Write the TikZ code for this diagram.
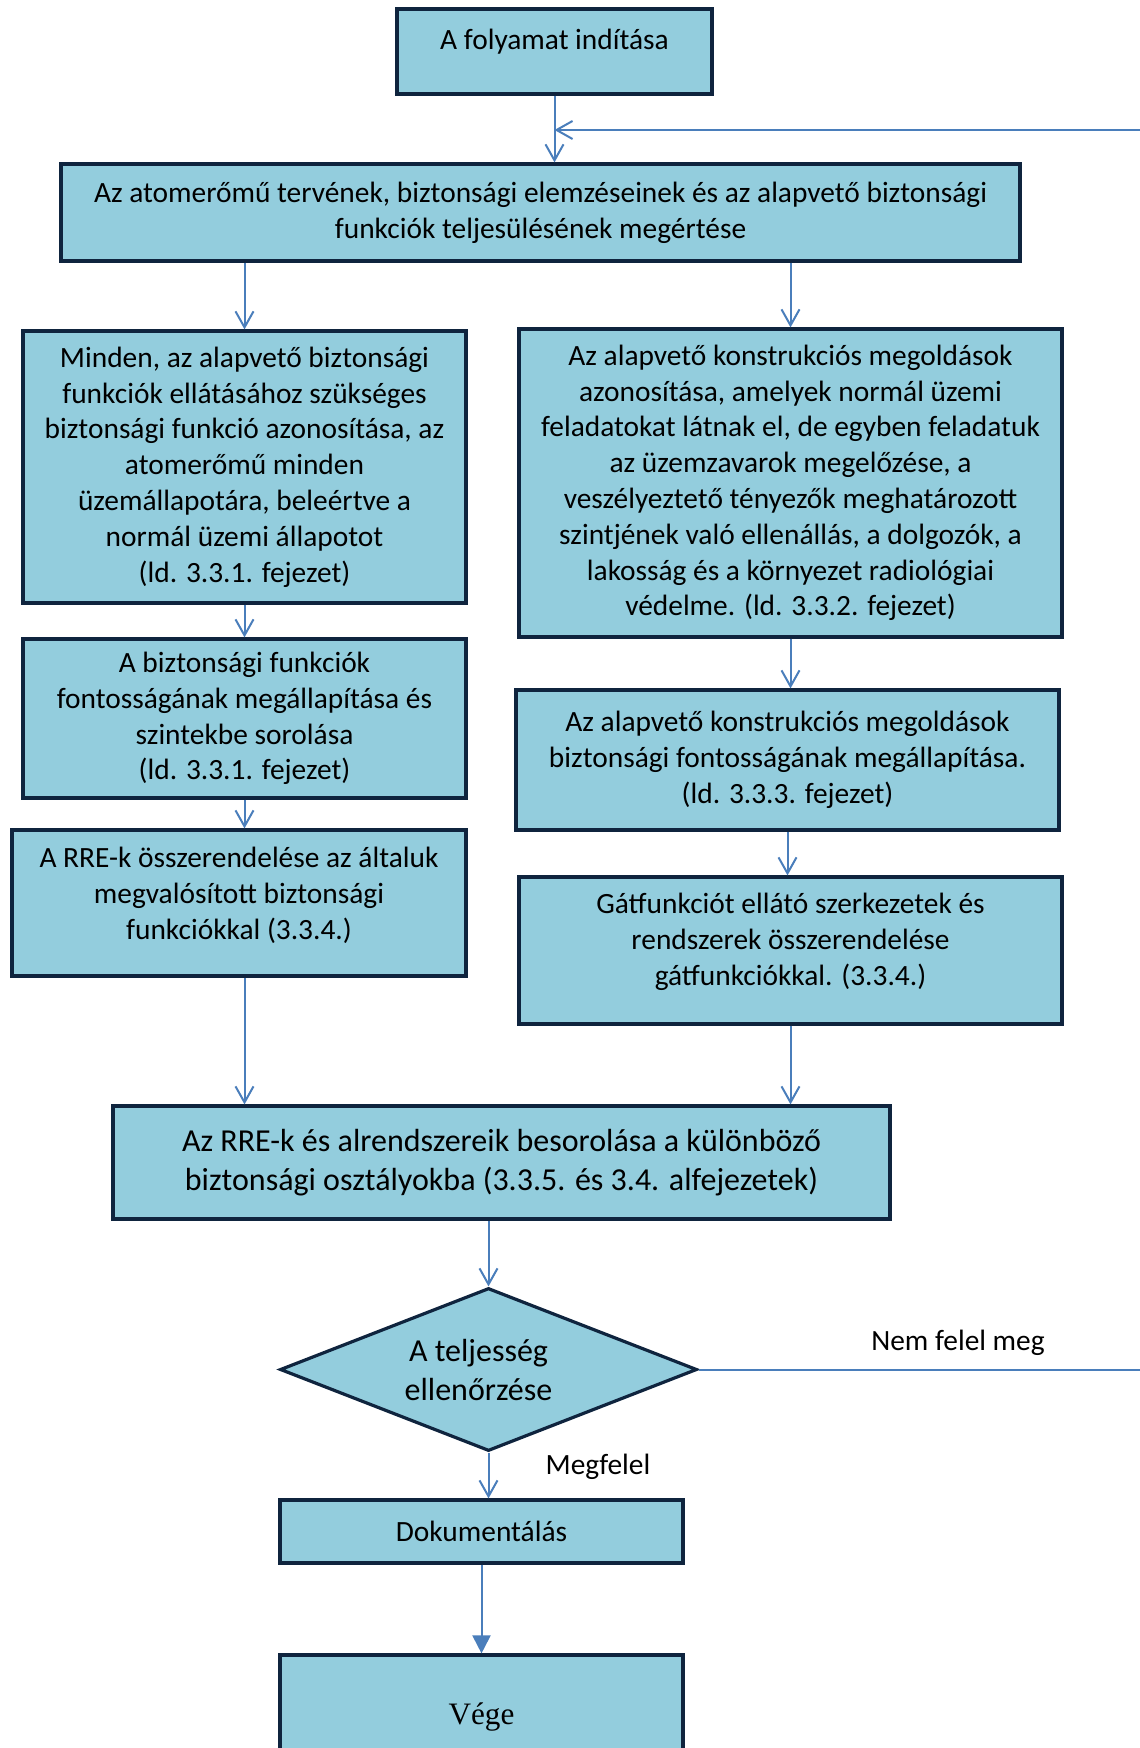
\documentclass[tikz,border=0pt]{standalone}
\usepackage{fontspec}
\setmainfont{Carlito}
\newfontfamily\vegefont{Liberation Serif}
\usepackage{xcolor}
\usetikzlibrary{shapes.geometric,arrows.meta}
\definecolor{boxfill}{RGB}{147,205,221}
\definecolor{boxline}{RGB}{15,36,62}
\definecolor{linkblue}{RGB}{74,126,187}

\begin{document}
\begin{tikzpicture}[x=0.5pt,y=-0.5pt,
  box/.style={rectangle,draw=boxline,fill=boxfill,line width=1.6pt,align=center,inner sep=0pt,font=\fontsize{14.7}{17.9}\selectfont},
  link/.style={draw=linkblue,line width=1pt},
  arr/.style={link,-{Straight Barb[length=8pt,width=9pt,line width=1pt]}}]
\useasboundingbox (0,0) rectangle (1139,1748);

\node [box,minimum width=157.5pt,minimum height=42.5pt,text depth=12pt] (start) at (554.5,51.5) {A folyamat indítása};
\node [box,minimum width=479.5pt,minimum height=48.5pt] (plan) at (540.5,212.5)
  {Az atomerőmű tervének, biztonsági elemzéseinek és az alapvető biztonsági\\funkciók teljesülésének megértése};
\node [box,minimum width=221.5pt,minimum height=136pt] (func) at (244.5,467)
  {Minden, az alapvető biztonsági\\funkciók ellátásához szükséges\\biztonsági funkció azonosítása, az\\atomerőmű minden\\üzemállapotára, beleértve a\\normál üzemi állapotot\\(ld. 3.3.1. fejezet)};
\node [box,minimum width=271.5pt,minimum height=154pt] (design) at (790.5,483)
  {Az alapvető konstrukciós megoldások\\azonosítása, amelyek normál üzemi\\feladatokat látnak el, de egyben feladatuk\\az üzemzavarok megelőzése, a\\veszélyeztető tényezők meghatározott\\szintjének való ellenállás, a dolgozók, a\\lakosság és a környezet radiológiai\\védelme. (ld. 3.3.2. fejezet)};
\node [box,minimum width=221.5pt,minimum height=79.5pt] (funcrank) at (244.5,718.5)
  {A biztonsági funkciók\\fontosságának megállapítása és\\szintekbe sorolása\\(ld. 3.3.1. fejezet)};
\node [box,minimum width=271.5pt,minimum height=70pt] (designrank) at (787.5,760)
  {Az alapvető konstrukciós megoldások\\biztonsági fontosságának megállapítása.\\(ld. 3.3.3. fejezet)};
\node [box,minimum width=227pt,minimum height=73pt,text depth=10pt] (rre) at (239,903)
  {A RRE-k összerendelése az általuk\\megvalósított biztonsági\\funkciókkal (3.3.4.)};
\node [box,minimum width=271.5pt,minimum height=73.5pt,text depth=11pt] (barrier) at (790.5,950.5)
  {Gátfunkciót ellátó szerkezetek és\\rendszerek összerendelése\\gátfunkciókkal. (3.3.4.)};
\node [box,minimum width=388.5pt,minimum height=56.5pt,font=\fontsize{16}{19.5}\selectfont] (classes) at (501.5,1162.5)
  {Az RRE-k és alrendszereik besorolása a különböző\\biztonsági osztályokba (3.3.5. és 3.4. alfejezetek)};
\node [box,diamond,minimum width=208.5pt,minimum height=81.5pt,aspect=2.56,font=\fontsize{16}{19.5}\selectfont] (check) at (488.5,1369.5)
  {A teljesség\hspace*{10pt}\\ellenőrzése\hspace*{10pt}};
\node [box,minimum width=201.5pt,minimum height=31.5pt] (docs) at (481.5,1531.5) {Dokumentálás};
\node [box,minimum width=201.5pt,minimum height=62pt,font=\vegefont\fontsize{15.6}{18}\selectfont] (finish) at (481.5,1717) {Vége};

\node [font=\fontsize{14.7}{17.9}\selectfont] (nok) at (958,1343) {Nem felel meg};
\node [font=\fontsize{14.7}{17.9}\selectfont] (ok) at (598,1467) {Megfelel};

\coordinate (join) at (554.5,130);
\coordinate (loop) at (1160,130);

\draw [arr] (start) -- (start.south |- plan.north);
\draw [arr] (check.east) -| (loop) -- (join);
\draw [arr] (plan.south -| func) -- (func);
\draw [arr] (plan.south -| design) -- (design);
\draw [arr] (func) -- (funcrank);
\draw [arr] (funcrank.south) -- (funcrank.south |- rre.north);
\draw [arr] (rre.south -| funcrank) -- (classes.north -| funcrank);
\draw [arr] (design) -- (design.south |- designrank.north);
\draw [arr] (designrank) -- (designrank.south |- barrier.north);
\draw [arr] (barrier) -- (barrier.south |- classes.north);
\draw [arr] (classes.south -| check) -- (check);
\draw [arr] (check.south) -- (check.south |- docs.north);
\draw [link,-{Triangle[length=9pt,width=9pt]}] (docs) -- (finish);
\end{tikzpicture}
\end{document}
